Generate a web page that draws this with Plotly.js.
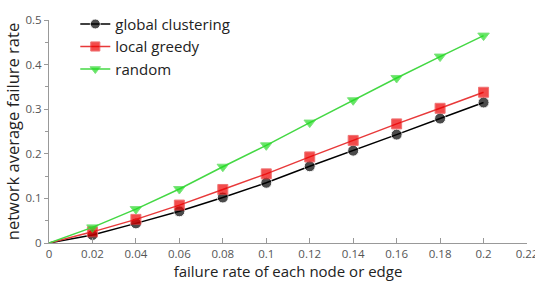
<!DOCTYPE html>
<html><head><meta charset="utf-8">
<script src="https://cdn.plot.ly/plotly-3.0.1.min.js"></script>
<style>html,body{margin:0;padding:0;background:#fff;overflow:hidden}#chart{width:535px;height:289px}</style>
</head><body><div id="chart"></div>
<script>
const failureRate = [0, 0.02, 0.04, 0.06, 0.08, 0.10, 0.12, 0.14, 0.16, 0.18, 0.20];
const globalClustering = [0, 0.018, 0.044, 0.071, 0.102, 0.135, 0.172, 0.207, 0.243, 0.279, 0.315];
const localGreedy = [0, 0.025, 0.053, 0.085, 0.120, 0.155, 0.193, 0.230, 0.267, 0.302, 0.338];
const randomSel = [0, 0.035, 0.076, 0.121, 0.171, 0.219, 0.270, 0.320, 0.370, 0.418, 0.465];
const seriesNames = ['global clustering', 'local greedy', 'random'];
const xTicks = [0, 0.02, 0.04, 0.06, 0.08, 0.1, 0.12, 0.14, 0.16, 0.18, 0.2, 0.22];

function sizes(s){ return failureRate.map((v,i)=> i===0 ? 0 : s); }

const traces = [
  {x: failureRate, y: globalClustering, name: seriesNames[0], mode: 'lines+markers',
   line: {color: '#000000', width: 1.5}, marker: {symbol: 'circle', size: sizes(11), color: '#000000'}},
  {x: failureRate, y: localGreedy, name: seriesNames[1], mode: 'lines+markers',
   line: {color: '#e8393a', width: 1.5}, marker: {symbol: 'square', size: sizes(10), color: '#ee0000'}},
  {x: failureRate, y: randomSel, name: seriesNames[2], mode: 'lines+markers',
   line: {color: '#44d844', width: 1.5}, marker: {symbol: 'triangle-down', size: sizes(10), color: '#22dd22'}}
];

const layout = {
  width: 535, height: 289,
  margin: {l: 49, r: 8, t: 10, b: 46},
  paper_bgcolor: '#ffffff', plot_bgcolor: '#ffffff',
  font: {family: 'Open Sans, DejaVu Sans, sans-serif', color: '#222'},
  showlegend: true,
  legend: {x: 0.055, y: 1.055, xanchor: 'left', yanchor: 'top', bgcolor: 'rgba(0,0,0,0)',
           font: {size: 15, color: '#222'}, tracegroupgap: 0, itemwidth: 30},
  xaxis: {
    range: [0, 0.22], tickvals: xTicks, ticktext: xTicks.map(String),
    showgrid: false, zeroline: false, showline: true, linecolor: '#999', linewidth: 1,
    ticks: 'inside', ticklen: 5, tickcolor: '#999', ticklabeloverflow: 'allow',
    tickfont: {size: 11.5, color: '#555'},
    title: {text: 'failure rate of each node or edge', font: {size: 15, color: '#222'}, standoff: 6}
  },
  yaxis: {
    range: [0, 0.5], dtick: 0.1, tick0: 0,
    showgrid: false, zeroline: false, showline: true, linecolor: '#999', linewidth: 1,
    ticks: 'outside', ticklen: 4, tickcolor: '#999',
    tickfont: {size: 11.5, color: '#555'},
    minor: {dtick: 0.05, ticks: 'outside', ticklen: 3, tickcolor: '#999'},
    title: {text: 'network average failure rate', font: {size: 16.5, color: '#222'}, standoff: 1}
  }
};

Plotly.newPlot('chart', traces, layout, {displayModeBar: false, staticPlot: true});
</script></body></html>
